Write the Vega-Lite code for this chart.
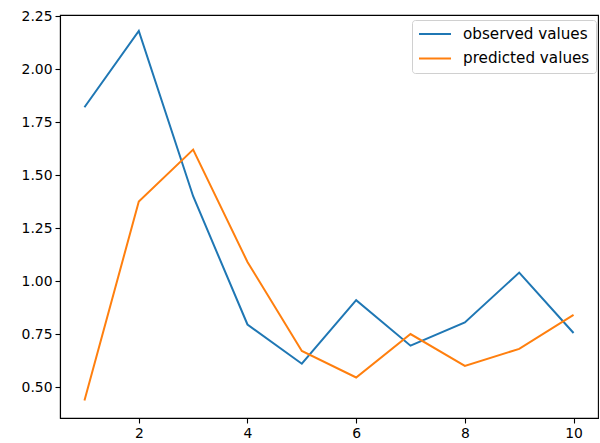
{
  "$schema": "https://vega.github.io/schema/vega-lite/v6.json",
  "width": 538,
  "height": 403,
  "autosize": {"type": "none"},
  "padding": {"left": 60, "top": 15, "right": 2, "bottom": 25},
  "background": "white",
  "config": {
    "font": "DejaVu Sans",
    "view": {"stroke": "#000", "strokeWidth": 1.1},
    "axis": {
      "grid": false,
      "domainColor": "#000",
      "domainWidth": 1.1,
      "tickColor": "#000",
      "tickWidth": 1.1,
      "tickSize": 5,
      "labelFontSize": 13.9,
      "labelColor": "#000",
      "labelPadding": 3,
      "title": null
    }
  },
  "data": {
    "values": [
      {"x": 1, "series": "observed values", "y": 1.82},
      {"x": 2, "series": "observed values", "y": 2.18},
      {"x": 3, "series": "observed values", "y": 1.40},
      {"x": 4, "series": "observed values", "y": 0.795},
      {"x": 5, "series": "observed values", "y": 0.61},
      {"x": 6, "series": "observed values", "y": 0.91},
      {"x": 7, "series": "observed values", "y": 0.695},
      {"x": 8, "series": "observed values", "y": 0.805},
      {"x": 9, "series": "observed values", "y": 1.04},
      {"x": 10, "series": "observed values", "y": 0.755},
      {"x": 1, "series": "predicted values", "y": 0.437},
      {"x": 2, "series": "predicted values", "y": 1.375},
      {"x": 3, "series": "predicted values", "y": 1.62},
      {"x": 4, "series": "predicted values", "y": 1.09},
      {"x": 5, "series": "predicted values", "y": 0.67},
      {"x": 6, "series": "predicted values", "y": 0.545},
      {"x": 7, "series": "predicted values", "y": 0.75},
      {"x": 8, "series": "predicted values", "y": 0.60},
      {"x": 9, "series": "predicted values", "y": 0.68},
      {"x": 10, "series": "predicted values", "y": 0.84}
    ]
  },
  "mark": {"type": "line", "strokeWidth": 2},
  "encoding": {
    "x": {
      "field": "x", "type": "quantitative",
      "scale": {"domain": [0.55, 10.45], "nice": false, "zero": false},
      "axis": {"values": [2, 4, 6, 8, 10], "format": "d"}
    },
    "y": {
      "field": "y", "type": "quantitative",
      "scale": {"domain": [0.354, 2.255], "nice": false, "zero": false},
      "axis": {"values": [0.5, 0.75, 1.0, 1.25, 1.5, 1.75, 2.0, 2.25], "format": ".2f"}
    },
    "color": {
      "field": "series", "type": "nominal",
      "scale": {"domain": ["observed values", "predicted values"], "range": ["#1f77b4", "#ff7f0e"]},
      "legend": {
        "title": null,
        "orient": "none",
        "legendX": 352,
        "legendY": 5,
        "symbolType": "stroke",
        "symbolSize": 1024,
        "symbolStrokeWidth": 2,
        "clipHeight": 16,
        "labelFontSize": 15.2,
        "labelColor": "#000",
        "rowPadding": 7.4,
        "padding": 6,
        "strokeColor": "#d0d0d0",
        "fillColor": "white",
        "cornerRadius": 3,
        "labelOffset": 11
      }
    }
  }
}
